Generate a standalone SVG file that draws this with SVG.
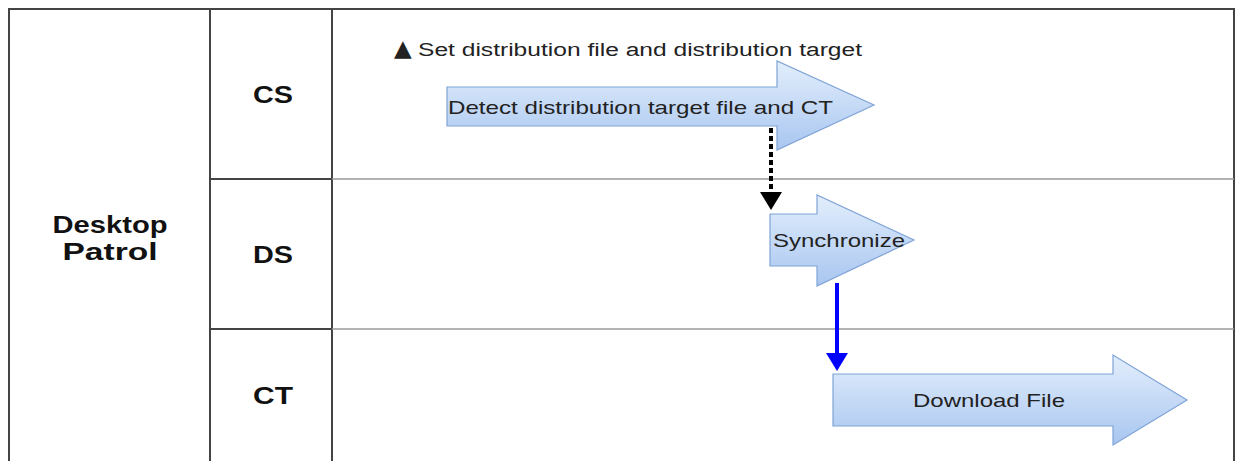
<svg xmlns="http://www.w3.org/2000/svg" width="1236" height="461" viewBox="0 0 1236 461">
<defs>
<linearGradient id="g" x1="0" y1="0" x2="0" y2="1">
<stop offset="0" stop-color="#e3eefc"/>
<stop offset="1" stop-color="#a8c6f0"/>
</linearGradient>
</defs>
<style>
.lane{fill:none;stroke:#444;stroke-width:2}
.thin{stroke:#9a9a9a;stroke-width:1.5}
.lbl{font-family:"Liberation Sans",Arial,sans-serif;font-weight:bold;font-size:23px;fill:#111;text-anchor:middle}
.arr{fill:url(#g);stroke:#7fa3d6;stroke-width:1.2}
.at{font-family:"Liberation Sans",Arial,sans-serif;font-size:19px;fill:#222}
.tri{font-family:"DejaVu Sans",sans-serif;font-size:23px}
</style>
<rect width="1236" height="461" fill="#fff"/>
<g id="lanes">
<path class="lane" d="M9,470 V9 H1234 V470"/>
<path class="lane" d="M210,9 V470 M332,9 V470 M210,179 H332 M210,329 H332"/>
<path class="thin" d="M332,179 H1234 M332,329 H1234"/>
</g>
<g id="pool"><text class="lbl" x="110" y="233" textLength="115" lengthAdjust="spacingAndGlyphs">Desktop</text><text class="lbl" x="110" y="260" textLength="95" lengthAdjust="spacingAndGlyphs">Patrol</text></g>
<g id="lane-cs"><text class="lbl" x="273" y="103" textLength="40" lengthAdjust="spacingAndGlyphs">CS</text></g>
<g id="lane-ds"><text class="lbl" x="273" y="263" textLength="40" lengthAdjust="spacingAndGlyphs">DS</text></g>
<g id="lane-ct"><text class="lbl" x="273" y="404" textLength="40" lengthAdjust="spacingAndGlyphs">CT</text></g>
<g id="note"><text class="at" style="font-size:18px" x="394" y="56"><tspan class="tri">▲</tspan><tspan x="418" textLength="444" lengthAdjust="spacingAndGlyphs">Set distribution file and distribution target</tspan></text></g>
<g id="detect">
<path class="arr" d="M447,87 H777 V61 L874,105 L777,150 V126 H447 Z"/>
<text class="at" x="448" y="114" textLength="385" lengthAdjust="spacingAndGlyphs">Detect distribution target file and CT</text>
</g>
<g id="sync">
<path class="arr" d="M770,214 H817 V195 L914,240 L817,286 V266 H770 Z"/>
<text class="at" x="773" y="247" textLength="132" lengthAdjust="spacingAndGlyphs">Synchronize</text>
</g>
<g id="download">
<path class="arr" d="M833,374 H1113 V355 L1187,400 L1113,445 V426 H833 Z"/>
<text class="at" x="913" y="407" textLength="152" lengthAdjust="spacingAndGlyphs">Download File</text>
</g>
<g id="connectors">
<line x1="771" y1="128" x2="771" y2="192" stroke="#000" stroke-width="4" stroke-dasharray="5,3"/>
<path d="M760,192 H782 L771,210 Z" fill="#000"/>
<line x1="837" y1="283" x2="837" y2="354" stroke="#0000ff" stroke-width="4"/>
<path d="M826,353 H848 L837,371 Z" fill="#0000ff"/>
</g>
</svg>
